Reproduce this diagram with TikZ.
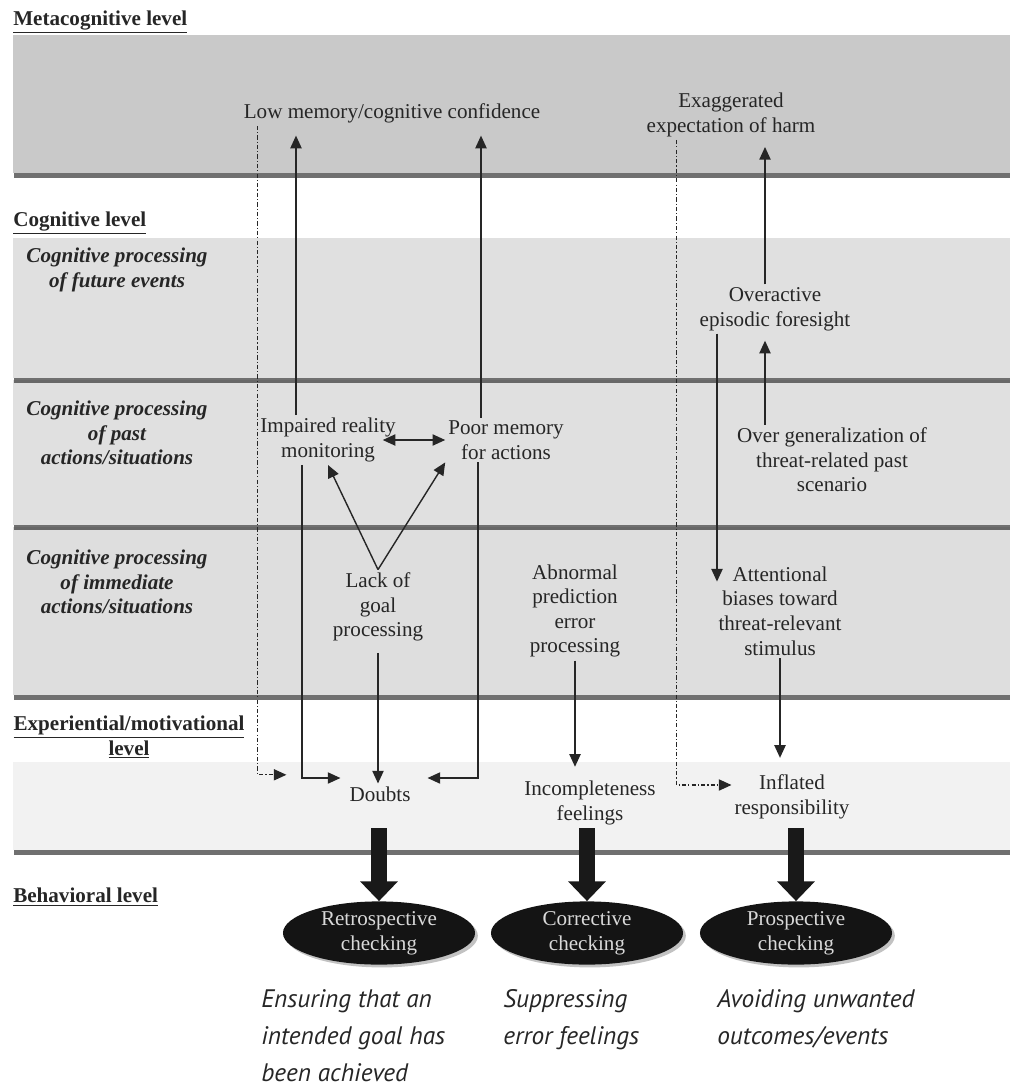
\documentclass[tikz,border=0pt]{standalone}
\usepackage{fontspec}
\setmainfont{Liberation Serif}
\newfontfamily\notefont{PT Sans}
\usepackage{tikz}
\usetikzlibrary{arrows.meta, shapes.geometric, shadows, calc}

\begin{document}
\begin{tikzpicture}[x=0.025cm, y=-0.025cm,
        font=\fontsize{15}{17.5}\selectfont,
        band/.style={draw=none, drop shadow={shadow xshift=1pt, shadow yshift=-3.5pt, fill=black!75, opacity=0.75}},
        lvl/.style={anchor=west, inner sep=0pt, font=\fontsize{15}{17.5}\selectfont\bfseries, text=black!85},
        sub/.style={align=center, font=\fontsize{15}{17.5}\selectfont\bfseries\itshape, text=black!85},
        txt/.style={align=center, inner sep=2pt, text=black!85},
        oval/.style={ellipse, fill=black!92, text=white!85!black, align=center, minimum width=4.8cm, minimum height=1.58cm, inner sep=0pt,
            drop shadow={shadow xshift=2pt, shadow yshift=-2pt, fill=black!40, opacity=0.6}},
        note/.style={anchor=north west, align=left, inner sep=0pt, font=\notefont\itshape\fontsize{18}{26.5}\selectfont, text=black!85},
        line/.style={draw, -{Triangle[length=9pt, width=8pt]}, line width=1pt, black!85},
        dbl/.style={line, {Triangle[length=9pt, width=8pt]}-{Triangle[length=9pt, width=8pt]}},
        dline/.style={line, line width=0.8pt, dash pattern=on 3pt off 1.5pt on 0.8pt off 1.5pt},
        fat/.style={draw, -{Triangle[length=14pt, width=26pt]}, line width=12pt, black!90}]

        \useasboundingbox (0,0) rectangle (1010,1090);

        % Bands
        \fill[band, fill=gray!10] (13,762) rectangle (1010,850);
        \fill[band, fill=gray!26] (13,527) rectangle (1010,695);
        \fill[band, fill=gray!24] (13,380) rectangle (1010,525);
        \fill[band, fill=gray!24] (13,238) rectangle (1010,378);
        \fill[band, fill=gray!42] (13,35) rectangle (1010,173);

        % Level labels
        \node [lvl] (meta) at (13,22) {\underline{Metacognitive level}};
        \node [lvl] (cog) at (13,223) {\underline{Cognitive level}};
        \node [lvl, anchor=center, align=center] (exper) at (129,737) {\underline{Experiential/motivational}\\\underline{level}};
        \node [lvl] (behav) at (13,897) {\underline{Behavioral level}};
        \node [sub] (future) at (117,270) {Cognitive processing\\of future events};
        \node [sub] (past) at (117,433) {Cognitive processing\\of past\\actions/situations};
        \node [sub] (immed) at (117,582) {Cognitive processing\\of immediate\\actions/situations};

        % Nodes
        \node [txt] (lowconf) at (392,113) {Low memory/cognitive confidence};
        \node [txt] (harm) at (731,115) {Exaggerated\\expectation of harm};
        \node [txt] (foresight) at (775,309) {Overactive\\episodic foresight};
        \node [txt] (overgen) at (832,460) {Over generalization of\\threat-related past\\scenario};
        \node [txt] (impaired) at (328,440) {Impaired reality\\monitoring};
        \node [txt] (poormem) at (506,440) {Poor memory\\for actions};
        \node [txt] (lackgoal) at (378,607) {Lack of\\goal\\processing};
        \node [txt] (abnormal) at (575,611) {Abnormal\\prediction\\error\\processing};
        \node [txt] (attn) at (780,611) {Attentional\\biases toward\\threat-relevant\\stimulus};
        \node [txt] (doubts) at (380,794) {Doubts};
        \node [txt] (incompl) at (590,803) {Incompleteness\\feelings};
        \node [txt] (inflated) at (792,797) {Inflated\\responsibility};

        \node [oval] (retro) at (379,933) {Retrospective\\checking};
        \node [oval] (corr) at (587,933) {Corrective\\checking};
        \node [oval] (prosp) at (796,933) {Prospective\\checking};

        \node [note] (ensure) at (261,989) {Ensuring that an\\intended goal has\\been achieved};
        \node [note] (suppress) at (503,989) {Suppressing\\error feelings};
        \node [note] (avoid) at (717,989) {Avoiding unwanted\\outcomes/events};

        % Edges
        \coordinate (impL) at ([xshift=-0.8cm]impaired.north);
        \coordinate (memR) at ([xshift=-0.625cm]poormem.north);
        \path [line, shorten >=7pt] (impL) -- (impL |- lowconf.south);
        \path [line, shorten >=7pt] (memR) -- (memR |- lowconf.south);
        \path [dbl] ([xshift=-0.4cm]impaired.east) -- (poormem.west);
        \path [line] (lackgoal.north) -- (impaired.south);
        \path [line] (lackgoal.north) -- (poormem.south west);

        \coordinate (impD) at ([xshift=-0.65cm]impaired.south);
        \coordinate (memD) at ([xshift=-0.7cm]poormem.south);
        \path [line] (impD) |- ([xshift=-0.15cm, yshift=0.4cm]doubts.west);
        \path [line] (memD) |- ([xshift=0.35cm, yshift=0.4cm]doubts.east);
        \path [line, shorten <=6pt] (lackgoal.south) -- (lackgoal.south |- doubts.north);
        \path [line, shorten >=8pt] (abnormal.south) -- (abnormal.south |- incompl.north);
        \path [line, shorten >=10pt] (attn.south) -- (attn.south |- inflated.north);

        \coordinate (fsA) at ([xshift=-0.25cm]foresight.north);
        \coordinate (fsB) at ([xshift=-1.45cm]foresight.south);
        \path [line, shorten >=5pt] (fsA |- overgen.north) -- (fsA |- foresight.south);
        \path [line, shorten >=5pt] (fsA) -- (fsA |- harm.south);
        \path [line] (fsB) -- ($(fsB |- attn.north)+(0,18)$);

        \coordinate (metaL) at ([xshift=0.43cm]lowconf.south west);
        \coordinate (metaR) at ([xshift=0.83cm]harm.south west);
        \path [dline] (metaL) |- ([xshift=-1.5cm, yshift=0.48cm]doubts.west);
        \path [dline] (metaR) |- ([yshift=0.3cm]inflated.west);

        \path [fat] (retro.north |- incompl.south) -- (retro.north);
        \path [fat] (corr.north |- incompl.south) -- (corr.north);
        \path [fat] (prosp.north |- incompl.south) -- (prosp.north);
    \end{tikzpicture}
\end{document}
